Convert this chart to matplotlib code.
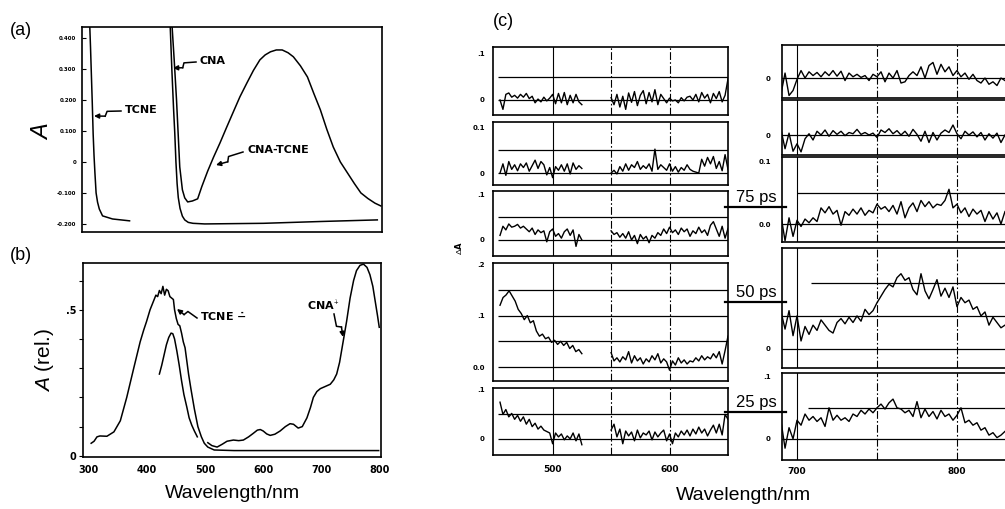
import numpy as np
import matplotlib
matplotlib.use('Agg')
import matplotlib.pyplot as plt

plt.rcParams['font.family'] = ['Liberation Sans', 'DejaVu Sans']
plt.rcParams['mathtext.fontset'] = 'custom'
plt.rcParams['mathtext.it'] = 'Liberation Sans:italic'
plt.rcParams['mathtext.rm'] = 'Liberation Sans'
plt.rcParams['axes.linewidth'] = 1.2

W, H = 1005, 509

# ---------------- (a) steady-state absorption
tcne_a_wl = [304, 305.5, 307, 308.5, 310, 311.5, 313, 315, 317.5, 320.5, 326, 343, 372]
tcne_a = [0.45, 0.37, 0.28, 0.19, 0.09, 0.02, -0.035, -0.1, -0.13, -0.152, -0.174, -0.184, -0.19]

cna_a_wl = [441, 444, 447, 449, 451, 453, 455, 458, 462, 466, 472, 480, 500, 600, 700, 794]
cna_a = [0.45, 0.3, 0.17, 0.094, 0.0, -0.07, -0.115, -0.15, -0.175, -0.187, -0.195, -0.198,
         -0.2, -0.198, -0.192, -0.187]

ct_a_wl = [444, 448, 452, 457.5, 462, 466, 471, 479, 488, 495, 505, 515, 526, 537, 548, 560,
           572, 583, 594, 603, 612, 622, 632, 642, 651, 663, 675, 686, 697, 708, 719, 731,
           743, 755, 766, 778, 790, 800]
ct_a = [0.45, 0.33, 0.2, -0.016, -0.09, -0.116, -0.129, -0.126, -0.119, -0.08, -0.03, 0.015,
        0.061, 0.11, 0.158, 0.21, 0.255, 0.295, 0.329, 0.345, 0.355, 0.361, 0.361, 0.352,
        0.339, 0.31, 0.274, 0.22, 0.168, 0.105, 0.048, 0.0, -0.035, -0.07, -0.1, -0.118,
        -0.133, -0.142]
a_ticks = [0.4, 0.3, 0.2, 0.1, 0, -0.1, -0.2]
a_ticklabels = ['0.400', '0.300', '0.200', '0.100', '0', '-0.100', '-0.200']

# ---------------- (b) ion spectra
tcne_b_wl = [305, 310, 315, 320, 332, 344, 355, 366, 378, 389, 395, 400, 406, 412, 416, 419,
             422, 425, 428, 431, 434, 437, 440, 443, 446, 448, 451, 454, 457, 460, 463, 466,
             468, 472, 476, 482, 488, 494, 499, 505, 516, 550, 650, 798]
tcne_b = [0.043, 0.05, 0.065, 0.068, 0.067, 0.082, 0.12, 0.2, 0.3, 0.39, 0.43, 0.46, 0.5,
          0.53, 0.55, 0.545, 0.566, 0.555, 0.58, 0.55, 0.57, 0.565, 0.545, 0.54, 0.535, 0.5,
          0.47, 0.45, 0.445, 0.42, 0.39, 0.37, 0.34, 0.28, 0.23, 0.16, 0.1, 0.065, 0.043,
          0.03, 0.02, 0.018, 0.018, 0.018]
narrow_b_wl = [422, 426, 430, 434, 438, 442, 445, 448, 452, 456, 460, 464, 469, 473, 477.5,
               482, 487]
narrow_b = [0.28, 0.31, 0.345, 0.38, 0.405, 0.42, 0.418, 0.4, 0.358, 0.31, 0.257, 0.21,
            0.167, 0.13, 0.105, 0.085, 0.065]
cna_b_wl = [505, 512, 521, 530, 538, 549, 558, 566, 575, 583, 590, 595, 600, 606, 612, 620,
            629, 638, 646, 652, 660, 667, 675, 681, 686, 692, 698, 706, 715, 721, 726, 731,
            737, 743, 749, 755, 760, 766, 772, 778, 783, 788, 792, 796, 799]
cna_b = [0.045, 0.035, 0.03, 0.04, 0.05, 0.054, 0.052, 0.054, 0.065, 0.077, 0.088, 0.09,
         0.085, 0.075, 0.07, 0.074, 0.085, 0.1, 0.11, 0.108, 0.095, 0.1, 0.13, 0.165, 0.2,
         0.22, 0.23, 0.237, 0.245, 0.26, 0.28, 0.32, 0.39, 0.46, 0.54, 0.6, 0.634, 0.652,
         0.656, 0.645, 0.62, 0.58, 0.53, 0.48, 0.44]

# ---------------- (c) transient difference spectra, left window (two segments each)
l1_a = [0.0, -0.02, 0.012, 0.015, 0.006, 0.01, 0.004, 0.012, 0.006, 0.014, 0.003, 0.008,
        -0.006, 0.002, -0.004, 0.006, -0.002, 0.004, 0.012, -0.008, 0.014, -0.006, 0.016,
        -0.01, 0.01, -0.006, 0.012, -0.004, -0.01]
l1_b = [0.005, -0.01, 0.012, -0.015, 0.008, -0.02, 0.015, -0.005, 0.018, -0.012, 0.01, 0.02,
        -0.008, 0.016, -0.004, 0.022, -0.01, 0.012, 0.003, -0.006, 0.004, -0.002, 0.0,
        -0.006, 0.005, -0.002, 0.006, 0.008, 0.0, 0.012, -0.004, 0.016, 0.004, 0.012, -0.006,
        0.014, 0.003, 0.018, -0.004, 0.01, 0.045]
l2_a = [0.0, 0.02, -0.005, 0.025, 0.008, 0.018, 0.005, 0.02, 0.012, 0.022, 0.004, 0.016,
        0.028, 0.01, 0.025, 0.018, -0.004, 0.012, -0.01, 0.014, 0.006, 0.018, 0.004, 0.02,
        -0.002, 0.022, 0.008, 0.016, 0.01]
l2_b = [0.0, 0.006, -0.002, 0.014, 0.004, 0.02, 0.006, 0.018, 0.012, 0.025, 0.008, 0.016,
        0.01, 0.02, 0.004, 0.052, 0.008, 0.018, 0.012, 0.006, 0.02, 0.004, 0.014, 0.002,
        0.012, 0.006, 0.018, 0.008, 0.004, 0.002, 0.0, 0.03, 0.015, 0.034, 0.02, 0.036, 0.01,
        0.025, 0.005, 0.04, 0.008]
l3_a = [0.01, 0.03, 0.022, 0.035, 0.028, 0.03, 0.034, 0.026, 0.03, 0.024, 0.018, 0.026,
        0.012, 0.022, 0.016, 0.02, -0.004, 0.018, 0.024, 0.008, 0.014, 0.004, 0.018, 0.024,
        0.01, 0.022, -0.014, 0.012, 0.0]
l3_b = [0.02, 0.012, 0.016, 0.006, 0.014, 0.004, 0.018, 0.0, 0.01, -0.008, 0.012, 0.002,
        0.008, -0.006, 0.01, 0.004, 0.016, 0.01, 0.024, 0.014, 0.028, 0.016, 0.022, 0.012,
        0.026, 0.018, 0.024, 0.008, 0.02, 0.014, 0.028, 0.016, 0.022, 0.01, 0.032, 0.04,
        0.024, 0.008, 0.03, 0.004, 0.025]
l4_a = [0.12, 0.135, 0.14, 0.148, 0.138, 0.128, 0.112, 0.104, 0.092, 0.1, 0.086, 0.09, 0.07,
        0.06, 0.064, 0.055, 0.058, 0.048, 0.052, 0.044, 0.05, 0.042, 0.048, 0.036, 0.042,
        0.03, 0.034, 0.026]
l4_b = [0.028, 0.012, 0.018, 0.01, 0.02, 0.014, 0.03, 0.008, 0.022, 0.012, 0.018, 0.006,
        0.016, 0.01, 0.022, 0.014, 0.026, 0.008, 0.016, 0.01, -0.006, 0.012, 0.004, 0.018,
        0.008, 0.014, 0.006, 0.012, 0.01, 0.018, 0.012, 0.022, 0.014, 0.02, 0.016, 0.026,
        0.018, 0.03, 0.006, 0.032, 0.06]
l5_a = [0.075, 0.05, 0.06, 0.045, 0.052, 0.04, 0.048, 0.036, 0.045, 0.03, 0.04, 0.025,
        0.032, 0.02, 0.026, 0.018, 0.015, 0.012, -0.01, 0.012, 0.004, 0.01, -0.002, 0.006,
        0.0, 0.012, -0.004, 0.01, -0.012]
l5_b = [0.018, 0.03, 0.004, 0.02, -0.01, 0.016, 0.006, 0.014, -0.004, 0.018, 0.002, 0.012,
        0.008, 0.016, -0.002, 0.014, 0.004, 0.012, 0.018, -0.004, 0.01, -0.01, 0.012, 0.004,
        0.016, 0.008, 0.018, 0.006, 0.02, 0.01, 0.024, 0.012, 0.02, 0.006, 0.018, 0.028,
        0.012, 0.03, 0.008, 0.05, 0.04]

# right window (690-830 nm)
r1 = [-0.025, 0.008, -0.028, -0.02, -0.002, 0.012, 0.0, 0.01, 0.004, 0.009, 0.002, 0.01,
      0.004, 0.012, 0.003, 0.011, -0.004, 0.008, 0.002, 0.006, 0.001, 0.004, -0.004, 0.006,
      0.002, 0.01, -0.006, 0.008, 0.0, 0.012, -0.008, -0.006, 0.004, 0.01, 0.004, 0.018, 0.0,
      0.02, 0.025, 0.006, 0.022, 0.01, 0.018, 0.004, 0.012, 0.002, 0.008, -0.002, 0.006,
      -0.004, -0.008, 0.0, -0.01, -0.006, -0.012, 0.0, -0.004]
r2 = [0.008, -0.022, 0.003, -0.026, -0.014, -0.027, -0.006, 0.002, -0.008, 0.006, 0.0, 0.008,
      -0.002, 0.007, 0.001, 0.006, -0.001, 0.004, 0.002, 0.009, 0.001, 0.004, 0.0, 0.003,
      -0.004, 0.008, 0.004, 0.01, 0.002, 0.007, 0.0, 0.006, -0.002, 0.009, 0.001, -0.01,
      0.006, -0.012, 0.004, -0.008, 0.003, 0.008, 0.004, 0.016, 0.002, -0.006, 0.006, 0.0,
      0.005, -0.003, 0.004, -0.008, 0.002, -0.005, 0.003, -0.012, 0.0]
r3 = [0.013, -0.027, 0.01, -0.02, 0.006, -0.004, 0.008, 0.002, 0.01, 0.004, 0.026, 0.018,
      0.028, 0.016, 0.022, -0.002, 0.02, 0.014, 0.024, 0.016, 0.026, 0.014, 0.022, 0.018,
      0.032, 0.024, 0.028, 0.02, 0.03, 0.016, 0.036, 0.01, 0.026, 0.034, 0.02, 0.038, 0.028,
      0.036, 0.026, 0.032, 0.03, 0.038, 0.056, 0.026, 0.032, 0.018, 0.026, 0.012, 0.024,
      0.016, 0.022, 0.004, 0.02, 0.008, 0.018, 0.0, 0.02]
r4 = [0.056, 0.03, 0.058, 0.02, 0.05, 0.012, 0.034, 0.022, 0.036, 0.028, 0.044, 0.036, 0.028,
      0.024, 0.04, 0.046, 0.038, 0.048, 0.04, 0.05, 0.042, 0.06, 0.052, 0.058, 0.07, 0.08,
      0.09, 0.098, 0.094, 0.108, 0.114, 0.104, 0.108, 0.09, 0.082, 0.114, 0.088, 0.076, 0.09,
      0.105, 0.08, 0.092, 0.078, 0.094, 0.064, 0.078, 0.07, 0.074, 0.06, 0.064, 0.05, 0.056,
      0.036, 0.048, 0.04, 0.032, 0.036]
r5 = [0.028, -0.015, 0.018, 0.0, 0.03, 0.022, 0.04, 0.03, 0.036, 0.028, 0.034, 0.02, 0.05,
      0.03, 0.038, 0.03, 0.034, 0.028, 0.04, 0.036, 0.046, 0.04, 0.048, 0.042, 0.05, 0.056,
      0.048, 0.058, 0.064, 0.05, 0.048, 0.042, 0.046, 0.036, 0.06, 0.034, 0.048, 0.036, 0.044,
      0.032, 0.046, 0.036, 0.04, 0.03, 0.038, 0.05, 0.026, 0.03, 0.022, 0.026, 0.014, 0.018,
      0.006, 0.01, 0.002, 0.006, 0.012]


def px_rect(l, t, r, b):
    """pixel box (top-left origin) -> figure fraction rect"""
    return [l / W, 1 - b / H, (r - l) / W, (b - t) / H]


def zap(ax, start, tip, k=2.2):
    """lightning style arrow in overlay pixel coords"""
    s, t = np.array(start, float), np.array(tip, float)
    d = t - s
    n = np.array([-d[1], d[0]]) / np.hypot(*d) * k
    m1 = s + 0.5 * d + n
    m2 = s + 0.6 * d - n
    ax.plot([s[0], m1[0], m2[0]], [s[1], m1[1], m2[1]], color='k', lw=1.1)
    ax.annotate('', xy=tip, xytext=m2,
                arrowprops=dict(arrowstyle='-|>', color='k', lw=1.1,
                                mutation_scale=7, shrinkA=0, shrinkB=0))


fig = plt.figure(figsize=(W / 100, H / 100), dpi=100)

# (a)
ax = fig.add_axes(px_rect(82, 27, 382, 232))
ax.plot(tcne_a_wl, tcne_a, color='k', lw=1.1)
ax.plot(cna_a_wl, cna_a, color='k', lw=1.1)
ax.plot(ct_a_wl, ct_a, color='k', lw=1.1)
ax.set_xlim(291, 802)
ax.set_ylim(-0.226, 0.435)
ax.set_xticks([])
ax.set_yticks(a_ticks)
ax.set_yticklabels(a_ticklabels, fontsize=4, fontweight='bold', family='DejaVu Sans')
ax.tick_params(axis='y', direction='in', length=3, pad=4)

# (b)
ax = fig.add_axes(px_rect(83, 263, 381, 457))
ax.plot(tcne_b_wl, tcne_b, color='k', lw=1.1)
ax.plot(narrow_b_wl, narrow_b, color='k', lw=1.1)
ax.plot(cna_b_wl, cna_b, color='k', lw=1.1)
ax.set_xlim(291, 802)
ax.set_ylim(-0.004, 0.66)
ax.set_xticks([300, 400, 500, 600, 700, 800])
ax.set_xticklabels(['300', '400', '500', '600', '700', '800'], fontsize=7,
                   fontweight='bold', family='DejaVu Sans')
ax.set_yticks([0, 0.1, 0.2, 0.3, 0.4, 0.5, 0.6])
ax.set_yticklabels(['0', '', '', '', '', '.5', ''], fontsize=7, fontweight='bold',
                   family='DejaVu Sans')
ax.tick_params(axis='y', direction='out', length=3, pad=2)
ax.tick_params(axis='x', direction='in', length=0, pad=6)

# (c) panels
left_rows = [
    ((47, 115), (-0.032, 0.113), l1_a, l1_b, [0, 0.1], ['0', '.1'], [0, 0.05]),
    ((122, 185), (-0.026, 0.111), l2_a, l2_b, [0, 0.1], ['0', '0.1'], [0, 0.05]),
    ((191, 256), (-0.035, 0.107), l3_a, l3_b, [0, 0.1], ['0', '.1'], [0, 0.05]),
    ((263, 381), (-0.027, 0.202), l4_a, l4_b, [0, 0.1, 0.2], ['0.0', '.1', '.2'],
     [0, 0.05, 0.1, 0.15]),
    ((388, 455), (-0.033, 0.104), l5_a, l5_b, [0, 0.1], ['0', '.1'], [0, 0.05]),
]
dashdot = (0, (7, 2, 1.5, 2))
for i, (rows, lims, seg_a, seg_b, yt, ytl, hl) in enumerate(left_rows):
    ax = fig.add_axes(px_rect(493, rows[0], 728, rows[1]))
    for y in hl:
        ax.hlines(y, 453, 650, color='k', lw=0.9)
    ax.axvline(500, color='k', lw=0.8)
    ax.axvline(550, color='k', lw=0.8, ls=dashdot)
    ax.axvline(600, color='k', lw=0.8, ls=dashdot)
    ax.plot(np.linspace(455, 525, len(seg_a)), seg_a, color='k', lw=1.0)
    ax.plot(np.linspace(550, 650, len(seg_b)), seg_b, color='k', lw=1.0)
    ax.set_xlim(449, 650)
    ax.set_ylim(*lims)
    ax.set_yticks(yt)
    ax.set_yticklabels(ytl, fontsize=5, fontweight='bold', family='DejaVu Sans')
    ax.tick_params(length=0, pad=6)
    if i == 4:
        ax.set_xticks([500, 600])
        ax.set_xticklabels(['500', '600'], fontsize=6.5, fontweight='bold',
                           family='DejaVu Sans')
        ax.tick_params(axis='x', pad=7)
    else:
        ax.set_xticks([])

right_rows = [
    ((45, 98), (-0.032, 0.053), r1, [0], ['0'], [(0, 690)]),
    ((100, 155), (-0.032, 0.056), r2, [0], ['0'], [(0, 690)]),
    ((157, 242), (-0.029, 0.108), r3, [0, 0.1], ['0.0', '0.1'], [(0, 690), (0.05, 700)]),
    ((248, 368), (-0.029, 0.153), r4, [0], ['0'], [(0, 690), (0.05, 690), (0.1, 709)]),
    ((373, 460), (-0.034, 0.106), r5, [0, 0.1], ['0', '.1'], [(0, 690), (0.05, 707)]),
]
for i, (rows, lims, trace, yt, ytl, hl) in enumerate(right_rows):
    ax = fig.add_axes(px_rect(782, rows[0], 1012, rows[1]))
    for y, x0 in hl:
        ax.hlines(y, x0, 835, color='k', lw=0.9)
    ax.axvline(700, color='k', lw=0.8)
    ax.axvline(750, color='k', lw=0.8, ls=dashdot)
    ax.axvline(800, color='k', lw=0.8, ls=dashdot)
    ax.plot(np.linspace(690, 830, len(trace)), trace, color='k', lw=1.0)
    ax.set_xlim(690.6, 834.4)
    ax.set_ylim(*lims)
    ax.set_yticks(yt)
    ax.set_yticklabels(ytl, fontsize=5, fontweight='bold', family='DejaVu Sans')
    ax.tick_params(length=0, pad=8)
    ax.spines['right'].set_visible(False)
    if i == 4:
        ax.set_xticks([700, 800])
        ax.set_xticklabels(['700', '800'], fontsize=6.5, fontweight='bold',
                           family='DejaVu Sans')
        ax.tick_params(axis='x', pad=5)
    else:
        ax.set_xticks([])

# overlay for labels and decorations, in pixel coords
ov = fig.add_axes([0, 0, 1, 1])
ov.set_xlim(0, W)
ov.set_ylim(H, 0)
ov.axis('off')

ov.text(10, 30, '(a)', fontsize=13, va='center')
ov.text(10, 256, '(b)', fontsize=13, va='center')
ov.text(493, 21, '(c)', fontsize=13, va='center')
ov.text(42, 131, '$A$', fontsize=17, rotation=90, ha='center', va='center')
ov.text(45, 360, '$A$ (rel.)', fontsize=15, rotation=90, ha='center', va='center')
ov.text(232, 493, 'Wavelength/nm', fontsize=14, ha='center', va='center')
ov.text(743, 496, 'Wavelength/nm', fontsize=14, ha='center', va='center')
ov.text(458, 248, r'$\Delta$A', fontsize=6, rotation=90, ha='center', va='center',
        fontweight='bold', family='DejaVu Sans')

bold = dict(fontsize=8, fontweight='bold', family='DejaVu Sans', va='center')
ov.text(125, 110, 'TCNE', **bold)
zap(ov, (121, 111), (94, 116))
ov.text(200, 61, 'CNA', **bold)
zap(ov, (196, 62), (173, 68))
ov.text(247, 150, 'CNA-TCNE', **bold)
zap(ov, (243, 152), (216, 165))
ov.text(200, 316, r'TCNE $\mathbf{\dot{-}}$', **bold)
zap(ov, (197, 318), (177, 309))
ov.text(307, 306, r'CNA$^{\dot{+}}$', **bold)
zap(ov, (334, 314), (343, 337))

for label, y_line in [('75 ps', 207), ('50 ps', 302), ('25 ps', 412)]:
    ov.text(756, y_line - 2, label, fontsize=12, ha='center', va='bottom')
    ov.plot([725, 786], [y_line, y_line], color='k', lw=1.6)

fig.savefig('out.png', dpi=100)
